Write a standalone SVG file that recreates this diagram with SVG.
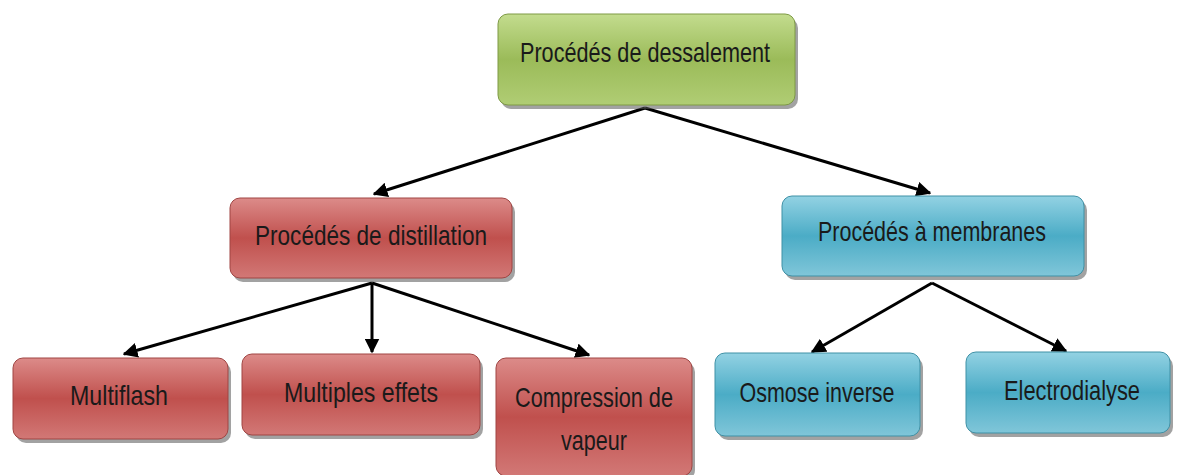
<svg xmlns="http://www.w3.org/2000/svg" width="1180" height="475" viewBox="0 0 1180 475">
<defs>
<linearGradient id="gG" x1="0" y1="0" x2="0" y2="1">
<stop offset="0" stop-color="#c3dc8e"/><stop offset="0.5" stop-color="#9bbb59"/><stop offset="1" stop-color="#b0cd74"/>
</linearGradient>
<linearGradient id="gR" x1="0" y1="0" x2="0" y2="1">
<stop offset="0" stop-color="#dc8b89"/><stop offset="0.5" stop-color="#c0504d"/><stop offset="1" stop-color="#d27876"/>
</linearGradient>
<linearGradient id="gB" x1="0" y1="0" x2="0" y2="1">
<stop offset="0" stop-color="#93d2e3"/><stop offset="0.5" stop-color="#4bacc6"/><stop offset="1" stop-color="#80c6d9"/>
</linearGradient>
<marker id="ah" viewBox="0 0 10 10" refX="9" refY="5" markerWidth="5" markerHeight="5" orient="auto" markerUnits="strokeWidth">
<path d="M0,0 L10,5 L0,10 z" fill="#000"/>
</marker>
</defs>
<style>
.lbl{font-family:"Liberation Sans","Open Sans",sans-serif;font-size:28px;text-anchor:middle;fill:#1a1a1a}
.sh{fill:#555;opacity:0.55}
.g{fill:url(#gG);stroke:#7e9a45;stroke-width:1}
.r{fill:url(#gR);stroke:#a04543;stroke-width:1}
.b{fill:url(#gB);stroke:#3f91a6;stroke-width:1}
.c{stroke:#000;stroke-width:3;fill:none;marker-end:url(#ah)}
</style>
<rect width="1180" height="475" fill="#fff"/>
<g id="connectors">
<line class="c" x1="645" y1="108" x2="374" y2="194"/>
<line class="c" x1="645" y1="108" x2="930" y2="193"/>
<line class="c" x1="372" y1="283" x2="124" y2="354"/>
<line class="c" x1="372" y1="283" x2="372" y2="352"/>
<line class="c" x1="372" y1="283" x2="589" y2="355"/>
<line class="c" x1="932" y1="283" x2="812" y2="352"/>
<line class="c" x1="932" y1="283" x2="1066" y2="351"/>
</g>
<g id="n-root">
<rect class="sh" x="501" y="18" width="297" height="91" rx="10"/>
<rect class="g" x="498" y="14" width="297" height="91" rx="10"/>
<text class="lbl" x="645" y="62" textLength="250" lengthAdjust="spacingAndGlyphs">Procédés de dessalement</text>
</g>
<g id="n-distillation">
<rect class="sh" x="233" y="202" width="282" height="80" rx="10"/>
<rect class="r" x="230" y="198" width="282" height="80" rx="10"/>
<text class="lbl" x="371" y="245" textLength="232" lengthAdjust="spacingAndGlyphs">Procédés de distillation</text>
</g>
<g id="n-membranes">
<rect class="sh" x="785" y="200" width="302" height="80" rx="10"/>
<rect class="b" x="782" y="196" width="302" height="80" rx="10"/>
<text class="lbl" x="932" y="241" textLength="228" lengthAdjust="spacingAndGlyphs">Procédés à membranes</text>
</g>
<g id="n-multiflash">
<rect class="sh" x="16" y="362" width="215" height="81" rx="10"/>
<rect class="r" x="13" y="358" width="215" height="81" rx="10"/>
<text class="lbl" x="119" y="405" textLength="98" lengthAdjust="spacingAndGlyphs">Multiflash</text>
</g>
<g id="n-multiples">
<rect class="sh" x="245" y="358" width="238" height="81" rx="10"/>
<rect class="r" x="242" y="354" width="238" height="81" rx="10"/>
<text class="lbl" x="361" y="402" textLength="154" lengthAdjust="spacingAndGlyphs">Multiples effets</text>
</g>
<g id="n-compression">
<rect class="sh" x="499" y="362" width="196" height="118" rx="10"/>
<rect class="r" x="496" y="358" width="196" height="118" rx="10"/>
<text class="lbl" x="594" y="407" textLength="158" lengthAdjust="spacingAndGlyphs">Compression de</text>
<text class="lbl" x="594" y="450" textLength="66" lengthAdjust="spacingAndGlyphs">vapeur</text>
</g>
<g id="n-osmose">
<rect class="sh" x="718" y="357" width="205" height="83" rx="10"/>
<rect class="b" x="715" y="353" width="205" height="83" rx="10"/>
<text class="lbl" x="817" y="402" textLength="155" lengthAdjust="spacingAndGlyphs">Osmose inverse</text>
</g>
<g id="n-electro">
<rect class="sh" x="969" y="356" width="204" height="81" rx="10"/>
<rect class="b" x="966" y="352" width="204" height="81" rx="10"/>
<text class="lbl" x="1072" y="400" textLength="136" lengthAdjust="spacingAndGlyphs">Electrodialyse</text>
</g>
</svg>
